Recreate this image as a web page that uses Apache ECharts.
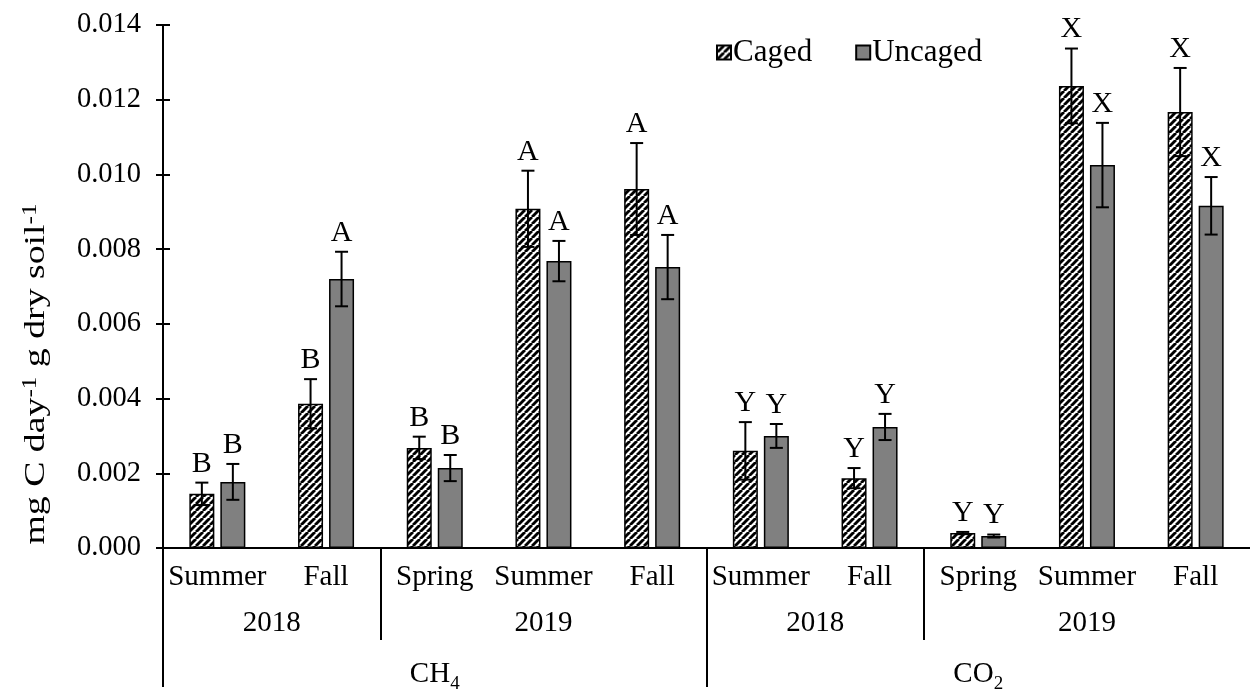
<!DOCTYPE html>
<html>
<head>
<meta charset="utf-8">
<script src="https://cdn.jsdelivr.net/npm/echarts@6/dist/echarts.min.js"></script>
<style>
  html, body { margin: 0; padding: 0; background: #fff; }
  #chart { width: 1250px; height: 694px; }
</style>
</head>
<body>
<div id="chart"></div>
<script>
// Seasonal gas flux, caged vs. uncaged plots (mean ± SE)
const seasons = ['Summer', 'Fall', 'Spring', 'Summer', 'Fall', 'Summer', 'Fall', 'Spring', 'Summer', 'Fall'];
const yearLabels = ['2018', '2019', '2018', '2019'];
const yearSpans = [2, 3, 2, 3];
const gasLabels = ['CH{sub|4}', 'CO{sub|2}'];
const gasSpans = [5, 5];

const caged = [0.00145, 0.00386, 0.00268, 0.00908, 0.00961, 0.00260, 0.00187, 0.00040, 0.01237, 0.01167];
const cagedErr = [0.00030, 0.00066, 0.00030, 0.00102, 0.00123, 0.00077, 0.00027, 0.00003, 0.00100, 0.00118];
const cagedLetters = ['B', 'B', 'B', 'A', 'A', 'Y', 'Y', 'Y', 'X', 'X'];

const uncaged = [0.00177, 0.00720, 0.00214, 0.00768, 0.00752, 0.00300, 0.00324, 0.00032, 0.01025, 0.00916];
const uncagedErr = [0.00048, 0.00073, 0.00035, 0.00054, 0.00086, 0.00032, 0.00035, 0.00004, 0.00113, 0.00077];
const uncagedLetters = ['B', 'A', 'B', 'A', 'A', 'Y', 'Y', 'Y', 'X', 'X'];

const yTicks = { min: 0, max: 0.014, interval: 0.002 };

const FONT = 'Liberation Serif, Times New Roman, serif';
const BAR_W = 0.23;   // fraction of category band
const BAR_GAP = 0.24; // fraction of bar width

// diagonal hatch for the caged bars
function hatch() {
  const s = 7;
  const c = document.createElement('canvas');
  c.width = s; c.height = s;
  const ctx = c.getContext('2d');
  ctx.fillStyle = '#fff';
  ctx.fillRect(0, 0, s, s);
  ctx.strokeStyle = '#000';
  ctx.lineWidth = 2.9;
  for (let k = -1; k <= 1; k++) {
    ctx.beginPath();
    ctx.moveTo(k * s, s);
    ctx.lineTo(k * s + s, 0);
    ctx.stroke();
  }
  return c;
}

// centres and boundaries of the grouping rows, in category units
function groupCenters(spans) {
  const out = []; let acc = 0;
  spans.forEach(n => { out.push(acc + n / 2); acc += n; });
  return out;
}
function groupEdges(spans) {
  const out = [0]; let acc = 0;
  spans.forEach(n => { acc += n; out.push(acc); });
  return out.slice(0, -1);
}
const yearCenters = groupCenters(yearSpans);
const gasCenters = groupCenters(gasSpans);
const yearEdges = groupEdges(yearSpans).filter(v => !groupEdges(gasSpans).includes(v));
const gasEdges = groupEdges(gasSpans);

function lookup(centers, labels) {
  return v => {
    const i = centers.findIndex(c => Math.abs(c - v) < 1e-6);
    return i >= 0 ? labels[i] : '';
  };
}

function errSeries(name, values, errs, letters, side) {
  return {
    name: name + ' SE',
    type: 'custom',
    xAxisIndex: 0,
    yAxisIndex: 0,
    z: 5,
    clip: false,
    data: values.map((v, i) => [i, v, errs[i]]),
    renderItem: (params, api) => {
      const i = api.value(0), v = api.value(1), e = api.value(2);
      const band = api.size([1, 0])[0];
      const w = band * BAR_W;
      const dx = side * (w + w * BAR_GAP) / 2;
      const top = api.coord([i, v + e]);
      const bot = api.coord([i, v - e]);
      const x = top[0] + dx;
      const cap = 6.5;
      const ls = { stroke: '#000', lineWidth: 2 };
      return {
        type: 'group',
        children: [
          { type: 'line', shape: { x1: x, y1: top[1], x2: x, y2: bot[1] }, style: ls },
          { type: 'line', shape: { x1: x - cap, y1: top[1], x2: x + cap, y2: top[1] }, style: ls },
          { type: 'line', shape: { x1: x - cap, y1: bot[1], x2: x + cap, y2: bot[1] }, style: ls },
          {
            type: 'text',
            style: {
              text: letters[i], x: x, y: top[1] - 4,
              align: 'center', verticalAlign: 'bottom',
              font: '30px ' + FONT, fill: '#000'
            }
          }
        ]
      };
    }
  };
}

const chart = echarts.init(document.getElementById('chart'), null, { renderer: 'canvas' });
const pattern = { image: hatch(), repeat: 'repeat' };

const axisBlack = { color: '#000', width: 2 };
const labelBase = { color: '#000', fontFamily: FONT, fontSize: 29 };

chart.setOption({
  animation: false,
  backgroundColor: '#fff',
  grid: { left: 163, right: 0, top: 25, bottom: 146 },
  legend: {
    data: ['Caged', 'Uncaged'],
    left: 711, top: 32,
    icon: 'rect', itemWidth: 14, itemHeight: 14, itemGap: 43,
    textStyle: { color: '#000', fontFamily: FONT, fontSize: 31, padding: [0, 0, 0, -3] }
  },
  xAxis: [
    {
      type: 'category',
      data: seasons,
      axisLine: { lineStyle: axisBlack },
      axisTick: { show: false },
      axisLabel: Object.assign({ margin: 15, interval: 0 }, labelBase)
    },
    {
      type: 'value', min: 0, max: seasons.length, position: 'bottom',
      axisLine: { show: false }, splitLine: { show: false },
      axisTick: { show: true, customValues: yearEdges, length: 92, lineStyle: axisBlack },
      axisLabel: Object.assign({ customValues: yearCenters, formatter: lookup(yearCenters, yearLabels), margin: 61 }, labelBase)
    },
    {
      type: 'value', min: 0, max: seasons.length, position: 'bottom',
      axisLine: { show: false }, splitLine: { show: false },
      axisTick: { show: true, customValues: gasEdges, length: 139, lineStyle: axisBlack },
      axisLabel: Object.assign({
        customValues: gasCenters, formatter: lookup(gasCenters, gasLabels), margin: 106,
        rich: {
          sub: { fontFamily: FONT, fontSize: 19, color: '#000', lineHeight: 18, verticalAlign: 'bottom' }
        },
        lineHeight: 40
      }, labelBase)
    }
  ],
  yAxis: [
    {
      type: 'value', min: yTicks.min, max: yTicks.max, interval: yTicks.interval,
      axisLine: { show: true, lineStyle: axisBlack },
      axisTick: { show: true, length: 7, lineStyle: axisBlack },
      splitLine: { show: false },
      axisLabel: Object.assign({ margin: 22, formatter: v => v.toFixed(3) }, labelBase, { fontSize: 28.5 })
    },
    {
      type: 'value', min: yTicks.min, max: yTicks.max, interval: yTicks.interval, position: 'left',
      axisLine: { show: false },
      axisTick: { show: true, inside: true, length: 7, lineStyle: axisBlack },
      splitLine: { show: false },
      axisLabel: { show: false }
    }
  ],
  graphic: [{
    type: 'text',
    x: 36, y: 374,
    rotation: Math.PI / 2,
    scaleX: 1.26,
    style: {
      text: 'mg C day{sup|-1} g dry soil{sup|-1}',
      font: '30px ' + FONT,
      fill: '#000',
      align: 'center', verticalAlign: 'middle',
      rich: {
        sup: { fontFamily: FONT, fontSize: 20, fill: '#000', lineHeight: 16, verticalAlign: 'top' }
      }
    }
  }],
  series: [
    {
      name: 'Caged', type: 'bar', data: caged,
      barWidth: (BAR_W * 100) + '%', barGap: (BAR_GAP * 100) + '%',
      itemStyle: { color: pattern, borderColor: '#000', borderWidth: 1.5 }
    },
    {
      name: 'Uncaged', type: 'bar', data: uncaged,
      barWidth: (BAR_W * 100) + '%', barGap: (BAR_GAP * 100) + '%',
      itemStyle: { color: '#808080', borderColor: '#000', borderWidth: 1.5 }
    },
    errSeries('Caged', caged, cagedErr, cagedLetters, -1),
    errSeries('Uncaged', uncaged, uncagedErr, uncagedLetters, 1)
  ]
});
</script>
</body>
</html>
